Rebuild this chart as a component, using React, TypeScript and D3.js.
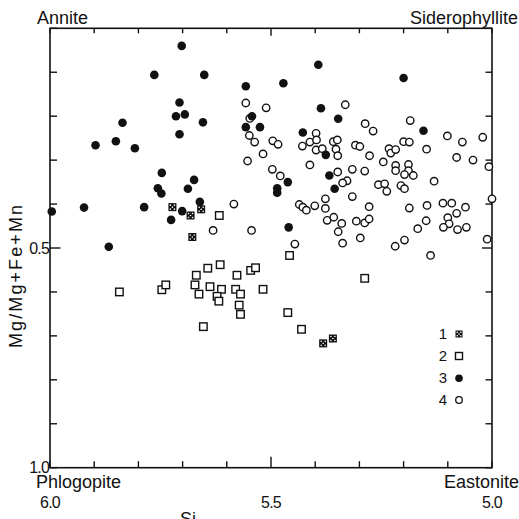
import React from "react";
import * as d3 from "d3";

// Series 1: crossed squares [Si, Mg/(Mg+Fe+Mn)]
const series1: [number, number][] = [
  [5.723, 0.407], [5.682, 0.426], [5.658, 0.412], [5.678, 0.475],
  [5.382, 0.717], [5.36, 0.706],
];

// Series 2: open squares
const series2: [number, number][] = [
  [5.617, 0.426], [5.458, 0.517], [5.288, 0.569], [5.518, 0.594], [5.462, 0.647],
  [5.431, 0.685], [5.843, 0.6], [5.747, 0.595], [5.738, 0.584], [5.669, 0.562],
  [5.643, 0.546], [5.615, 0.538], [5.672, 0.584], [5.663, 0.605], [5.638, 0.588],
  [5.612, 0.594], [5.622, 0.61], [5.618, 0.621], [5.58, 0.594], [5.569, 0.605],
  [5.577, 0.562], [5.546, 0.551], [5.535, 0.545], [5.572, 0.63], [5.569, 0.651],
  [5.653, 0.679],
];

// Series 3: filled circles
const series3: [number, number][] = [
  [5.702, 0.04], [5.764, 0.106], [5.651, 0.106], [5.557, 0.132], [5.707, 0.169],
  [5.715, 0.2], [5.695, 0.196], [5.836, 0.215], [5.654, 0.214], [5.557, 0.225],
  [5.543, 0.2], [5.525, 0.225], [5.707, 0.241], [5.897, 0.266], [5.851, 0.257],
  [5.808, 0.273], [5.747, 0.329], [5.756, 0.364], [5.748, 0.376], [5.674, 0.345],
  [5.688, 0.365], [5.661, 0.395], [5.701, 0.416], [5.726, 0.436], [5.787, 0.407],
  [5.923, 0.408], [5.996, 0.417], [5.867, 0.497], [5.393, 0.083], [5.472, 0.125],
  [5.2, 0.113], [5.387, 0.182], [5.348, 0.206], [5.428, 0.237], [5.155, 0.233],
  [5.376, 0.288], [5.368, 0.335], [5.462, 0.35], [5.486, 0.364], [5.486, 0.374],
  [5.356, 0.365], [5.46, 0.453],
];

// Series 4: open circles
const series4: [number, number][] = [
  [5.557, 0.17], [5.548, 0.205], [5.549, 0.244], [5.537, 0.259], [5.553, 0.302],
  [5.584, 0.4], [5.631, 0.46], [5.544, 0.46], [5.511, 0.181], [5.496, 0.256],
  [5.484, 0.264], [5.518, 0.286], [5.332, 0.174], [5.287, 0.217], [5.269, 0.234],
  [5.185, 0.21], [5.101, 0.245], [5.067, 0.259], [5.021, 0.248], [5.429, 0.268],
  [5.412, 0.259], [5.398, 0.239], [5.397, 0.254], [5.398, 0.277], [5.384, 0.274],
  [5.359, 0.258], [5.35, 0.254], [5.353, 0.275], [5.349, 0.29], [5.309, 0.266],
  [5.299, 0.269], [5.277, 0.29], [5.233, 0.274], [5.229, 0.284], [5.218, 0.276],
  [5.2, 0.258], [5.187, 0.259], [5.148, 0.275], [5.08, 0.294], [5.043, 0.3],
  [5.007, 0.315], [5.412, 0.311], [5.497, 0.321], [5.479, 0.336], [5.349, 0.327],
  [5.316, 0.321], [5.288, 0.325], [5.246, 0.304], [5.218, 0.312], [5.218, 0.324],
  [5.189, 0.31], [5.189, 0.324], [5.198, 0.333], [5.178, 0.335], [5.131, 0.348],
  [5.328, 0.347], [5.338, 0.352], [5.257, 0.356], [5.243, 0.354], [5.238, 0.371],
  [5.206, 0.358], [5.198, 0.365], [5.377, 0.388], [5.316, 0.383], [5.436, 0.401],
  [5.428, 0.407], [5.42, 0.414], [5.401, 0.404], [5.377, 0.41], [5.278, 0.406],
  [5.187, 0.409], [5.147, 0.403], [5.111, 0.398], [5.091, 0.398], [5.06, 0.407],
  [5.08, 0.421], [5.1, 0.431], [5.097, 0.445], [5.11, 0.453], [5.078, 0.458],
  [5.058, 0.453], [5.0, 0.388], [5.373, 0.437], [5.358, 0.43], [5.34, 0.444],
  [5.348, 0.463], [5.307, 0.439], [5.288, 0.443], [5.278, 0.434], [5.149, 0.438],
  [5.168, 0.456], [5.338, 0.489], [5.298, 0.477], [5.219, 0.496], [5.198, 0.482],
  [5.011, 0.48], [5.446, 0.491], [5.139, 0.517],
];

const xTicks = d3.range(0, 11).map((i) => +(6.0 - i * 0.1).toFixed(1));
const yTicks = d3.range(0, 11).map((i) => +(i * 0.1).toFixed(1));
const xLabelTicks = [6.0, 5.5, 5.0];
const yLabelTicks = [0.5, 1.0];
const legendLabels = ["1", "2", "3", "4"];

const INK = "#111";
const FONT = "'Liberation Sans', Arial, sans-serif";

function CrossSquare({ cx, cy, s }: { cx: number; cy: number; s: number }) {
  const h = s / 2;
  const d = s * 0.25;
  return (
    <g>
      <rect x={cx - h} y={cy - h} width={s} height={s} fill={INK} />
      {[[-d, -d], [d, -d], [-d, d], [d, d], [0, 0]].map(([dx, dy], i) => (
        <circle key={i} cx={cx + dx} cy={cy + dy} r={0.8} fill="#fff" />
      ))}
    </g>
  );
}

function OpenSquare({ cx, cy, s }: { cx: number; cy: number; s: number }) {
  return (
    <rect x={cx - s / 2} y={cy - s / 2} width={s} height={s} fill="#fff" stroke={INK} strokeWidth={1.4} />
  );
}

export default function App() {
  const left = 50, right = 492, top = 28.3, bottom = 467.7;
  const x = d3.scaleLinear().domain([6.0, 5.0]).range([left, right]);
  const y = d3.scaleLinear().domain([0, 1]).range([top, bottom]);
  const fmt = d3.format(".1f");
  const isMajor = (v: number, center: number) => Math.abs(v - center) < 1e-6;

  const legendY = [334, 356, 378.3, 400];
  const legendX = 459;

  return (
    <svg
      width={519}
      height={519}
      style={{ position: "absolute", left: 0, top: 0, background: "#fff" }}
      fontFamily={FONT}
    >
      <rect x={0} y={0} width={519} height={519} fill="#fff" />
      {/* frame */}
      <rect x={left} y={top} width={right - left} height={bottom - top} fill="none" stroke={INK} strokeWidth={1.6} />
      {/* x ticks top & bottom */}
      {xTicks.map((t) => {
        const len = isMajor(t, 5.5) ? 11 : 6.5;
        return (
          <g key={"xt" + t} stroke={INK} strokeWidth={1.4}>
            <line x1={x(t)} x2={x(t)} y1={bottom} y2={bottom - len} />
            <line x1={x(t)} x2={x(t)} y1={top} y2={top + (isMajor(t, 5.5) ? 7.5 : 5)} />
          </g>
        );
      })}
      {/* y ticks left & right */}
      {yTicks.map((t) => {
        const len = isMajor(t, 0.5) ? 10.5 : 7;
        return (
          <g key={"yt" + t} stroke={INK} strokeWidth={1.4}>
            <line x1={left} x2={left + len} y1={y(t)} y2={y(t)} />
            <line x1={right} x2={right - (isMajor(t, 0.5) ? 10 : 6.5)} y1={y(t)} y2={y(t)} />
          </g>
        );
      })}
      {/* tick labels */}
      {xLabelTicks.map((t) => (
        <text key={"xl" + t} x={x(t)} y={508} textAnchor="middle" fontSize={16} fill={INK} letterSpacing={-0.8}>
          {fmt(t)}
        </text>
      ))}
      {yLabelTicks.map((t) => (
        <text key={"yl" + t} x={left - 1} y={y(t) + 5.5} textAnchor="end" fontSize={16} fill={INK} letterSpacing={-0.8}>
          {fmt(t)}
        </text>
      ))}
      {/* corner labels */}
      <text x={37} y={23.5} fontSize={18} fill={INK}>Annite</text>
      <text x={518} y={23.5} fontSize={18} fill={INK} textAnchor="end">Siderophyllite</text>
      <text x={36} y={487.5} fontSize={18} fill={INK}>Phlogopite</text>
      <text x={519} y={487.5} fontSize={18} fill={INK} textAnchor="end">Eastonite</text>
      {/* axis titles */}
      <text x={180} y={525} fontSize={18} fill={INK}>Si</text>
      <text
        transform={`translate(22,276.5) rotate(-90)`}
        textAnchor="middle"
        fontSize={18}
        fill={INK}
        textLength={143}
        lengthAdjust="spacing"
      >
        Mg/Mg+Fe+Mn
      </text>
      {/* data */}
      {series4.map(([si, r], i) => (
        <circle key={"s4" + i} cx={x(si)} cy={y(r)} r={3.7} fill="#fff" stroke={INK} strokeWidth={1.4} />
      ))}
      {series2.map(([si, r], i) => (
        <OpenSquare key={"s2" + i} cx={x(si)} cy={y(r)} s={7.5} />
      ))}
      {series3.map(([si, r], i) => (
        <circle key={"s3" + i} cx={x(si)} cy={y(r)} r={4.3} fill={INK} />
      ))}
      {series1.map(([si, r], i) => (
        <CrossSquare key={"s1" + i} cx={x(si)} cy={y(r)} s={8} />
      ))}
      {/* legend */}
      {legendLabels.map((lab, i) => (
        <text key={"lg" + lab} x={447} y={legendY[i] + 5} textAnchor="end" fontSize={15} fill={INK}>
          {lab}
        </text>
      ))}
      <CrossSquare cx={legendX} cy={legendY[0]} s={7} />
      <OpenSquare cx={legendX} cy={legendY[1]} s={7} />
      <circle cx={legendX} cy={legendY[2]} r={3.8} fill={INK} />
      <circle cx={legendX} cy={legendY[3]} r={3.3} fill="#fff" stroke={INK} strokeWidth={1.3} />
    </svg>
  );
}
